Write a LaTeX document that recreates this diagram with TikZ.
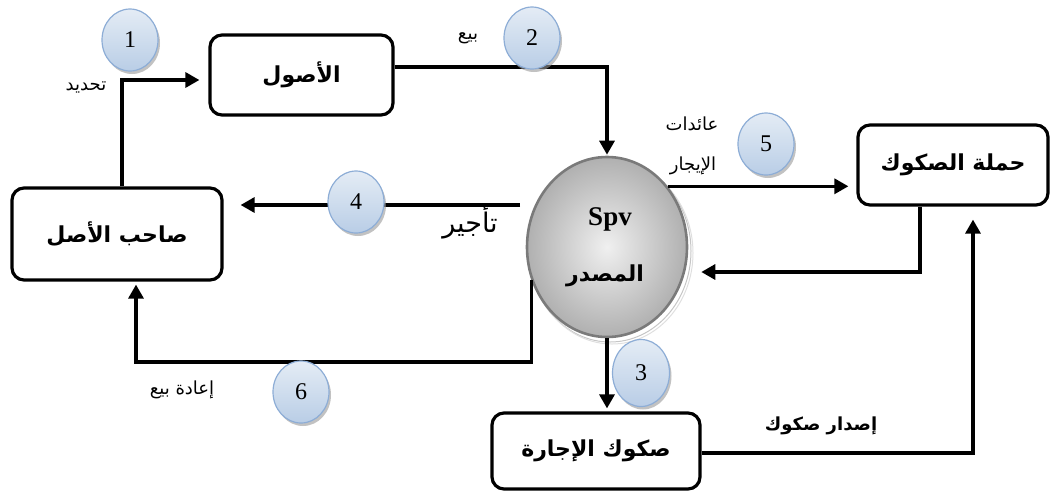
\documentclass[tikz,border=0pt]{standalone}
\usepackage{fontspec}
\setmainfont{Liberation Serif}
\newfontfamily\arabicfont[Script=Arabic]{DejaVu Sans}
\TeXXeTstate=1
\usetikzlibrary{arrows.meta,shapes.geometric,shadows}
\newcommand\artxt[1]{{\arabicfont\beginR #1\endR}}
\definecolor{badgetop}{HTML}{E4ECF5}
\definecolor{badgebot}{HTML}{B9CDE6}
\definecolor{badgeedge}{HTML}{8DADD6}
\definecolor{spvedge}{HTML}{7A7A7A}
\begin{document}
\begin{tikzpicture}[x=1pt,y=-1pt,
  box/.style={draw, line width=3.2pt, rounded corners=12pt, fill=white,
    align=center, inner sep=0pt, font=\bfseries\fontsize{22}{24}\selectfont},
  flow/.style={line width=3.2pt, -{Triangle[length=14pt,width=15pt]}},
  badge/.style={ellipse, draw=badgeedge, line width=1.2pt,
    top color=badgetop, bottom color=badgebot,
    minimum width=56pt, minimum height=62pt, inner sep=0pt,
    font=\fontsize{24}{24}\selectfont,
    drop shadow={shadow xshift=2pt, shadow yshift=-3pt, fill=black!40, opacity=0.6}},
  lbl/.style={inner sep=0pt, font=\fontsize{18}{20}\selectfont},
  lblbig/.style={inner sep=0pt, font=\fontsize{27}{29}\selectfont},
  lblbold/.style={inner sep=0pt, font=\bfseries\fontsize{18}{20}\selectfont}]
\useasboundingbox (0,0) rectangle (1050,491);

% main blocks
\node[box, minimum width=183pt, minimum height=80pt] (asl) at (301.5,75) {\artxt{الأصول}};
\node[box, minimum width=210pt, minimum height=92pt] (sahib) at (117,234) {\artxt{صاحب الأصل}};
\node[box, minimum width=190pt, minimum height=80pt] (hamala) at (953,165) {\artxt{حملة الصكوك}};
\node[box, minimum width=208pt, minimum height=76pt] (sukuk) at (596,451) {\artxt{صكوك الإجارة}};

% SPV issuer: shaded ellipse with a faint offset rim
\draw[gray!45, line width=1pt] (610,251) ellipse [x radius=81pt, y radius=91pt];
\draw[gray!25, line width=1pt] (612,253) ellipse [x radius=81pt, y radius=91pt];
\node[ellipse, draw=spvedge, line width=2.6pt, inner color=gray!12, outer color=gray!62,
  minimum width=160pt, minimum height=180pt, inner sep=0pt] (spv) at (607,247) {};
\node[inner sep=0pt, font=\bfseries\fontsize{27}{27}\selectfont] (spvname) at (610,219) {Spv};
\node[inner sep=0pt, font=\bfseries\fontsize{22}{24}\selectfont] (spvrole) at (605,276) {\artxt{المصدر}};

% flows
\draw[flow, shorten >=9pt] ([xshift=5pt]sahib.north) |- ([yshift=-5pt]asl.west);
\draw[flow, shorten >=1pt] ([yshift=8pt]asl.east) -| (spv.north);
\draw[flow, shorten >=3pt] (spv.south) -- (spv.south |- sukuk.north);
\coordinate (lease) at ([shift={(-87pt,42pt)}]spv.center);
\draw[flow, shorten >=17pt] (lease) -- (lease -| sahib.east);
\draw[flow, shorten >=8pt] (spv.45) -- (spv.45 -| hamala.west);
\draw[flow, shorten >=13pt] ([xshift=-33pt]hamala.south) |- ([yshift=-25pt]spv.east);
\draw[flow, shorten >=13pt] ([yshift=-2pt]sukuk.east) -| ([xshift=20pt]hamala.south);
\coordinate (resale) at ([shift={(6pt,-33pt)}]spv.west);
\draw[flow, shorten >=3pt] (resale) -- ++(0,82) -| ([xshift=19pt]sahib.south);

% labels
\node[lbl] (l1) at (86,87) {\artxt{تحديد}};
\node[lbl] (l2) at (468,38) {\artxt{بيع}};
\node[lblbig] (l4) at (470,222) {\artxt{تأجير}};
\node[lbl] (l5a) at (692,124) {\artxt{عائدات}};
\node[lbl] (l5b) at (693,166) {\artxt{الإيجار}};
\node[lblbold] (l7) at (821,426) {\artxt{إصدار صكوك}};
\node[lbl] (l6) at (182,390) {\artxt{إعادة بيع}};

% step badges
\node[badge] (c1) at (130,40) {1};
\node[badge] (c2) at (532,38) {2};
\node[badge, minimum width=57pt, minimum height=67pt] (c3) at (641,373) {3};
\node[badge] (c4) at (356,202) {4};
\node[badge] (c5) at (766,144) {5};
\node[badge] (c6) at (301,392) {6};
\end{tikzpicture}
\end{document}
